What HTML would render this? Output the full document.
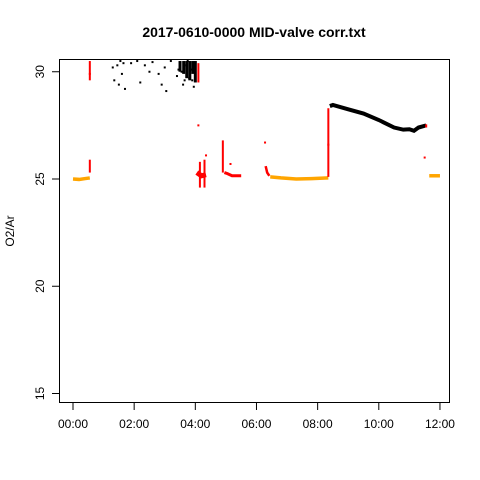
<!DOCTYPE html>
<html><head><meta charset="utf-8"><style>body{margin:0;background:#fff}svg{display:block;font-family:"Liberation Sans",sans-serif}</style></head>
<body>
<svg id="c" width="480" height="480" viewBox="0 0 480 480">
<text x="254" y="37" text-anchor="middle" font-size="14" font-weight="bold">2017-0610-0000 MID-valve corr.txt</text>
<rect x="59.5" y="59.5" width="390" height="343" fill="none" stroke="#000"/>
<text transform="translate(14,231) rotate(-90)" text-anchor="middle" font-size="12">O2/Ar</text>
<g id="axes"></g><g id="marks"></g>
</svg>
<script>
const yTicks=[15,20,25,30];
const xTicks=[0,2,4,6,8,10,12];
const xLabels=["00:00","02:00","04:00","06:00","08:00","10:00","12:00"];
// orange segments [hour, value]
const orange1=[[0,25.0],[0.2,24.98],[0.4,25.02],[0.55,25.05]];
const orange2=[[6.45,25.1],[6.8,25.05],[7.3,25.0],[7.8,25.02],[8.35,25.05]];
const orange3=[[11.65,25.15],[12.0,25.15]];
// black main curve
const blackCurve=[[8.4,28.4],[8.5,28.45],[9.0,28.25],[9.5,28.05],[10.0,27.75],[10.5,27.4],[10.8,27.3],[11.0,27.32],[11.15,27.25],[11.3,27.4],[11.55,27.5]];
// red traces
const red1=[[4.95,25.3],[5.05,25.25],[5.2,25.15],[5.5,25.15]];
const red2=[[6.3,25.6],[6.35,25.3],[6.42,25.15]];
const red3=[[4.05,25.3],[4.2,25.15],[4.35,25.2]];
const redVert=[[0.55,30.5,29.6],[0.55,25.9,25.3],[8.35,25.1,28.3],[4.1,30.4,29.5],[4.15,25.8,24.6],[4.3,25.9,24.6],[4.9,26.8,25.3],[11.55,27.55,27.4]];
const redDots=[[4.1,27.5],[6.28,26.7],[5.15,25.7],[8.35,26.6],[11.5,26.0],[4.35,26.1],[0.55,29.9]];
// black scatter near top
const blackDots=[[1.3,30.2],[1.35,29.6],[1.45,30.3],[1.5,29.4],[1.55,30.5],[1.6,29.9],[1.65,30.4],[1.7,29.2],[2.2,29.5],[2.35,30.3],[2.5,30.0],[2.6,30.45],[2.8,29.9],[2.9,29.4],[3.0,30.2],[3.05,29.1],[3.2,30.5],[3.4,29.8],[3.5,30.4],[3.55,30.0],[3.6,29.4],[3.7,30.3],[3.8,29.7],[3.9,29.6],[3.75,30.5],[3.85,30.1],[2.1,30.5],[1.9,30.4],[3.45,30.1],[3.65,29.6],[3.95,29.3],[3.72,29.9]];
const blackBlob=[[3.5,30.5,30.0],[3.62,30.5,29.9],[3.72,30.5,29.7],[3.82,30.5,29.6],[3.92,30.5,29.9],[4.0,30.5,29.5]];
const X=h=>73+h*30.58, Y=v=>179-(v-25)*21.45;
const ns="http://www.w3.org/2000/svg";
const ax=document.getElementById('axes'), mk=document.getElementById('marks');
function el(t,a,p){const e=document.createElementNS(ns,t);for(const k in a)e.setAttribute(k,a[k]);p.appendChild(e);return e;}
yTicks.forEach(v=>{
 const l=el('line',{x1:52,x2:59.5,y1:Y(v),y2:Y(v),stroke:'#000'},ax);
 
 
 const t=el('text',{transform:`translate(44,${Y(v)}) rotate(-90)`,'text-anchor':'middle','font-size':12},ax);t.textContent=v;
 
 
});
xTicks.forEach((h,i)=>{
 const l=el('line',{x1:X(h),x2:X(h),y1:402.5,y2:410,stroke:'#000'},ax);
 
 
 const t=el('text',{x:X(h),y:428,'text-anchor':'middle','font-size':12},ax);t.textContent=xLabels[i];
 
 
});
function clipV(v){return Math.min(v,30.55);}
function line(pts,col,w,name){const p=el('polyline',{points:pts.map(d=>X(d[0])+','+Y(clipV(d[1]))).join(' '),fill:'none',stroke:col,'stroke-width':w},mk);
 
 }
line(orange1,'#FFA500',3.5,'orange-series-1');
line(orange2,'#FFA500',3.5,'orange-series-2');
line(orange3,'#FFA500',3.5,'orange-series-3');
line(blackCurve,'#000',4,'black-series-curve');
line(red1,'#F00',3,'red-series-1');
line(red2,'#F00',2.5,'red-series-2');
line(red3,'#F00',5,'red-series-3');
redVert.forEach(d=>{const r=el('line',{x1:X(d[0]),x2:X(d[0]),y1:Y(clipV(d[1])),y2:Y(clipV(d[2])),stroke:'#F00','stroke-width':2},mk);
 
 });
blackBlob.forEach(d=>{const r=el('line',{x1:X(d[0]),x2:X(d[0]),y1:Y(clipV(d[1])),y2:Y(clipV(d[2])),stroke:'#000','stroke-width':3},mk);
 
 });
redDots.forEach(d=>{const r=el('rect',{x:X(d[0])-1,y:Y(d[1])-1,width:2,height:2,fill:'#F00'},mk);
 
 });
blackDots.forEach(d=>{const r=el('rect',{x:X(d[0])-1,y:Y(clipV(d[1]))-1,width:2,height:2,fill:'#000'},mk);
 
 });
</script>
</body></html>
